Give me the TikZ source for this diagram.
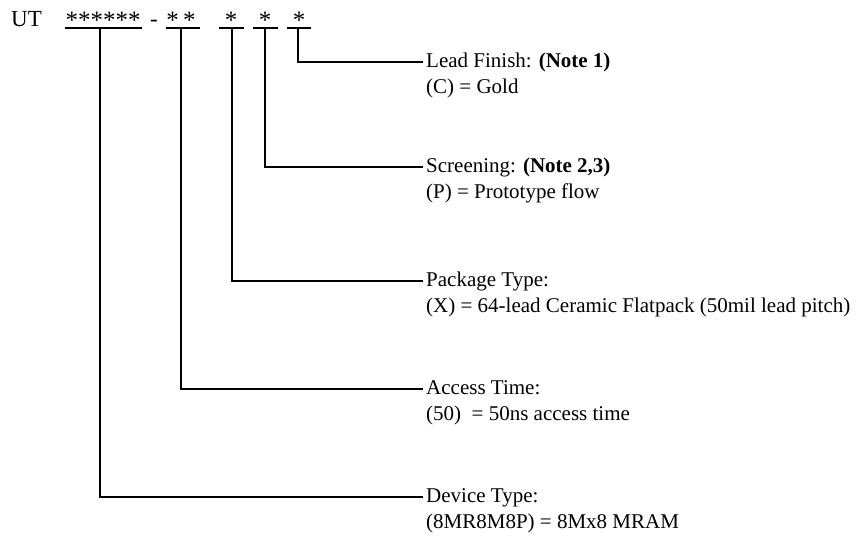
\documentclass[tikz,border=0pt]{standalone}
\usepackage{fontspec}
\setmainfont{Liberation Serif}
\begin{document}
\begin{tikzpicture}[x=1pt,y=-1pt,
  lbl/.style={anchor=base west,inner sep=0pt,font=\fontsize{21}{26}\selectfont},
  top/.style={anchor=base,inner sep=0pt,font=\fontsize{23}{26}\selectfont},
  star/.style={anchor=base,inner sep=0pt,font=\fontsize{25}{26}\selectfont},
  ln/.style={line width=1.7pt}]
\useasboundingbox (0,0) rectangle (859,541);
\node[top,anchor=base west] (ut) at (11,26) {UT};
\node[star] (s1) at (103,28) {******};
\node[top] (dash) at (154,26) {-};
\node[star] (s2) at (181,28) {*\,*};
\node[star] (s3) at (231,28) {*};
\node[star] (s4) at (265,28) {*};
\node[star] (s5) at (299,28) {*};
% underlines
\coordinate (u1a) at (65,28); \coordinate (u1b) at (142,28);
\coordinate (u2a) at (166,28); \coordinate (u2b) at (200,28);
\coordinate (u3a) at (219,28); \coordinate (u3b) at (244,28);
\coordinate (u4a) at (253,28); \coordinate (u4b) at (278,28);
\coordinate (u5a) at (287,28); \coordinate (u5b) at (311,28);
\draw[ln] (u1a) -- (u1b); \draw[ln] (u2a) -- (u2b); \draw[ln] (u3a) -- (u3b);
\draw[ln] (u4a) -- (u4b); \draw[ln] (u5a) -- (u5b);
% labels
\node[lbl] (lead) at (426,67) {Lead Finish: \textbf{(Note 1)}};
\node[lbl] (lead2) at (426,93) {(C) = Gold};
\node[lbl] (scr) at (426,172) {Screening: \textbf{(Note 2,3)}};
\node[lbl] (scr2) at (426,198) {(P) = Prototype flow};
\node[lbl] (pkg) at (426,286) {Package Type:};
\node[lbl] (pkg2) at (426,312) {(X) = 64-lead Ceramic Flatpack (50mil lead pitch)};
\node[lbl] (acc) at (426,394) {Access Time:};
\node[lbl] (acc2) at (426,420) {(50)\ \ = 50ns access time};
\node[lbl] (dev) at (426,502) {Device Type:};
\node[lbl] (dev2) at (426,528) {(8MR8M8P) = 8Mx8 MRAM};
% connectors
\coordinate (e1) at (423,62); \coordinate (e2) at (423,167); \coordinate (e3) at (423,281);
\coordinate (e4) at (423,389); \coordinate (e5) at (423,497);
\draw[ln] (298,28) |- (e1);
\draw[ln] (265,28) |- (e2);
\draw[ln] (232,28) |- (e3);
\draw[ln] (181,28) |- (e4);
\draw[ln] (100,28) |- (e5);
\end{tikzpicture}
\end{document}
